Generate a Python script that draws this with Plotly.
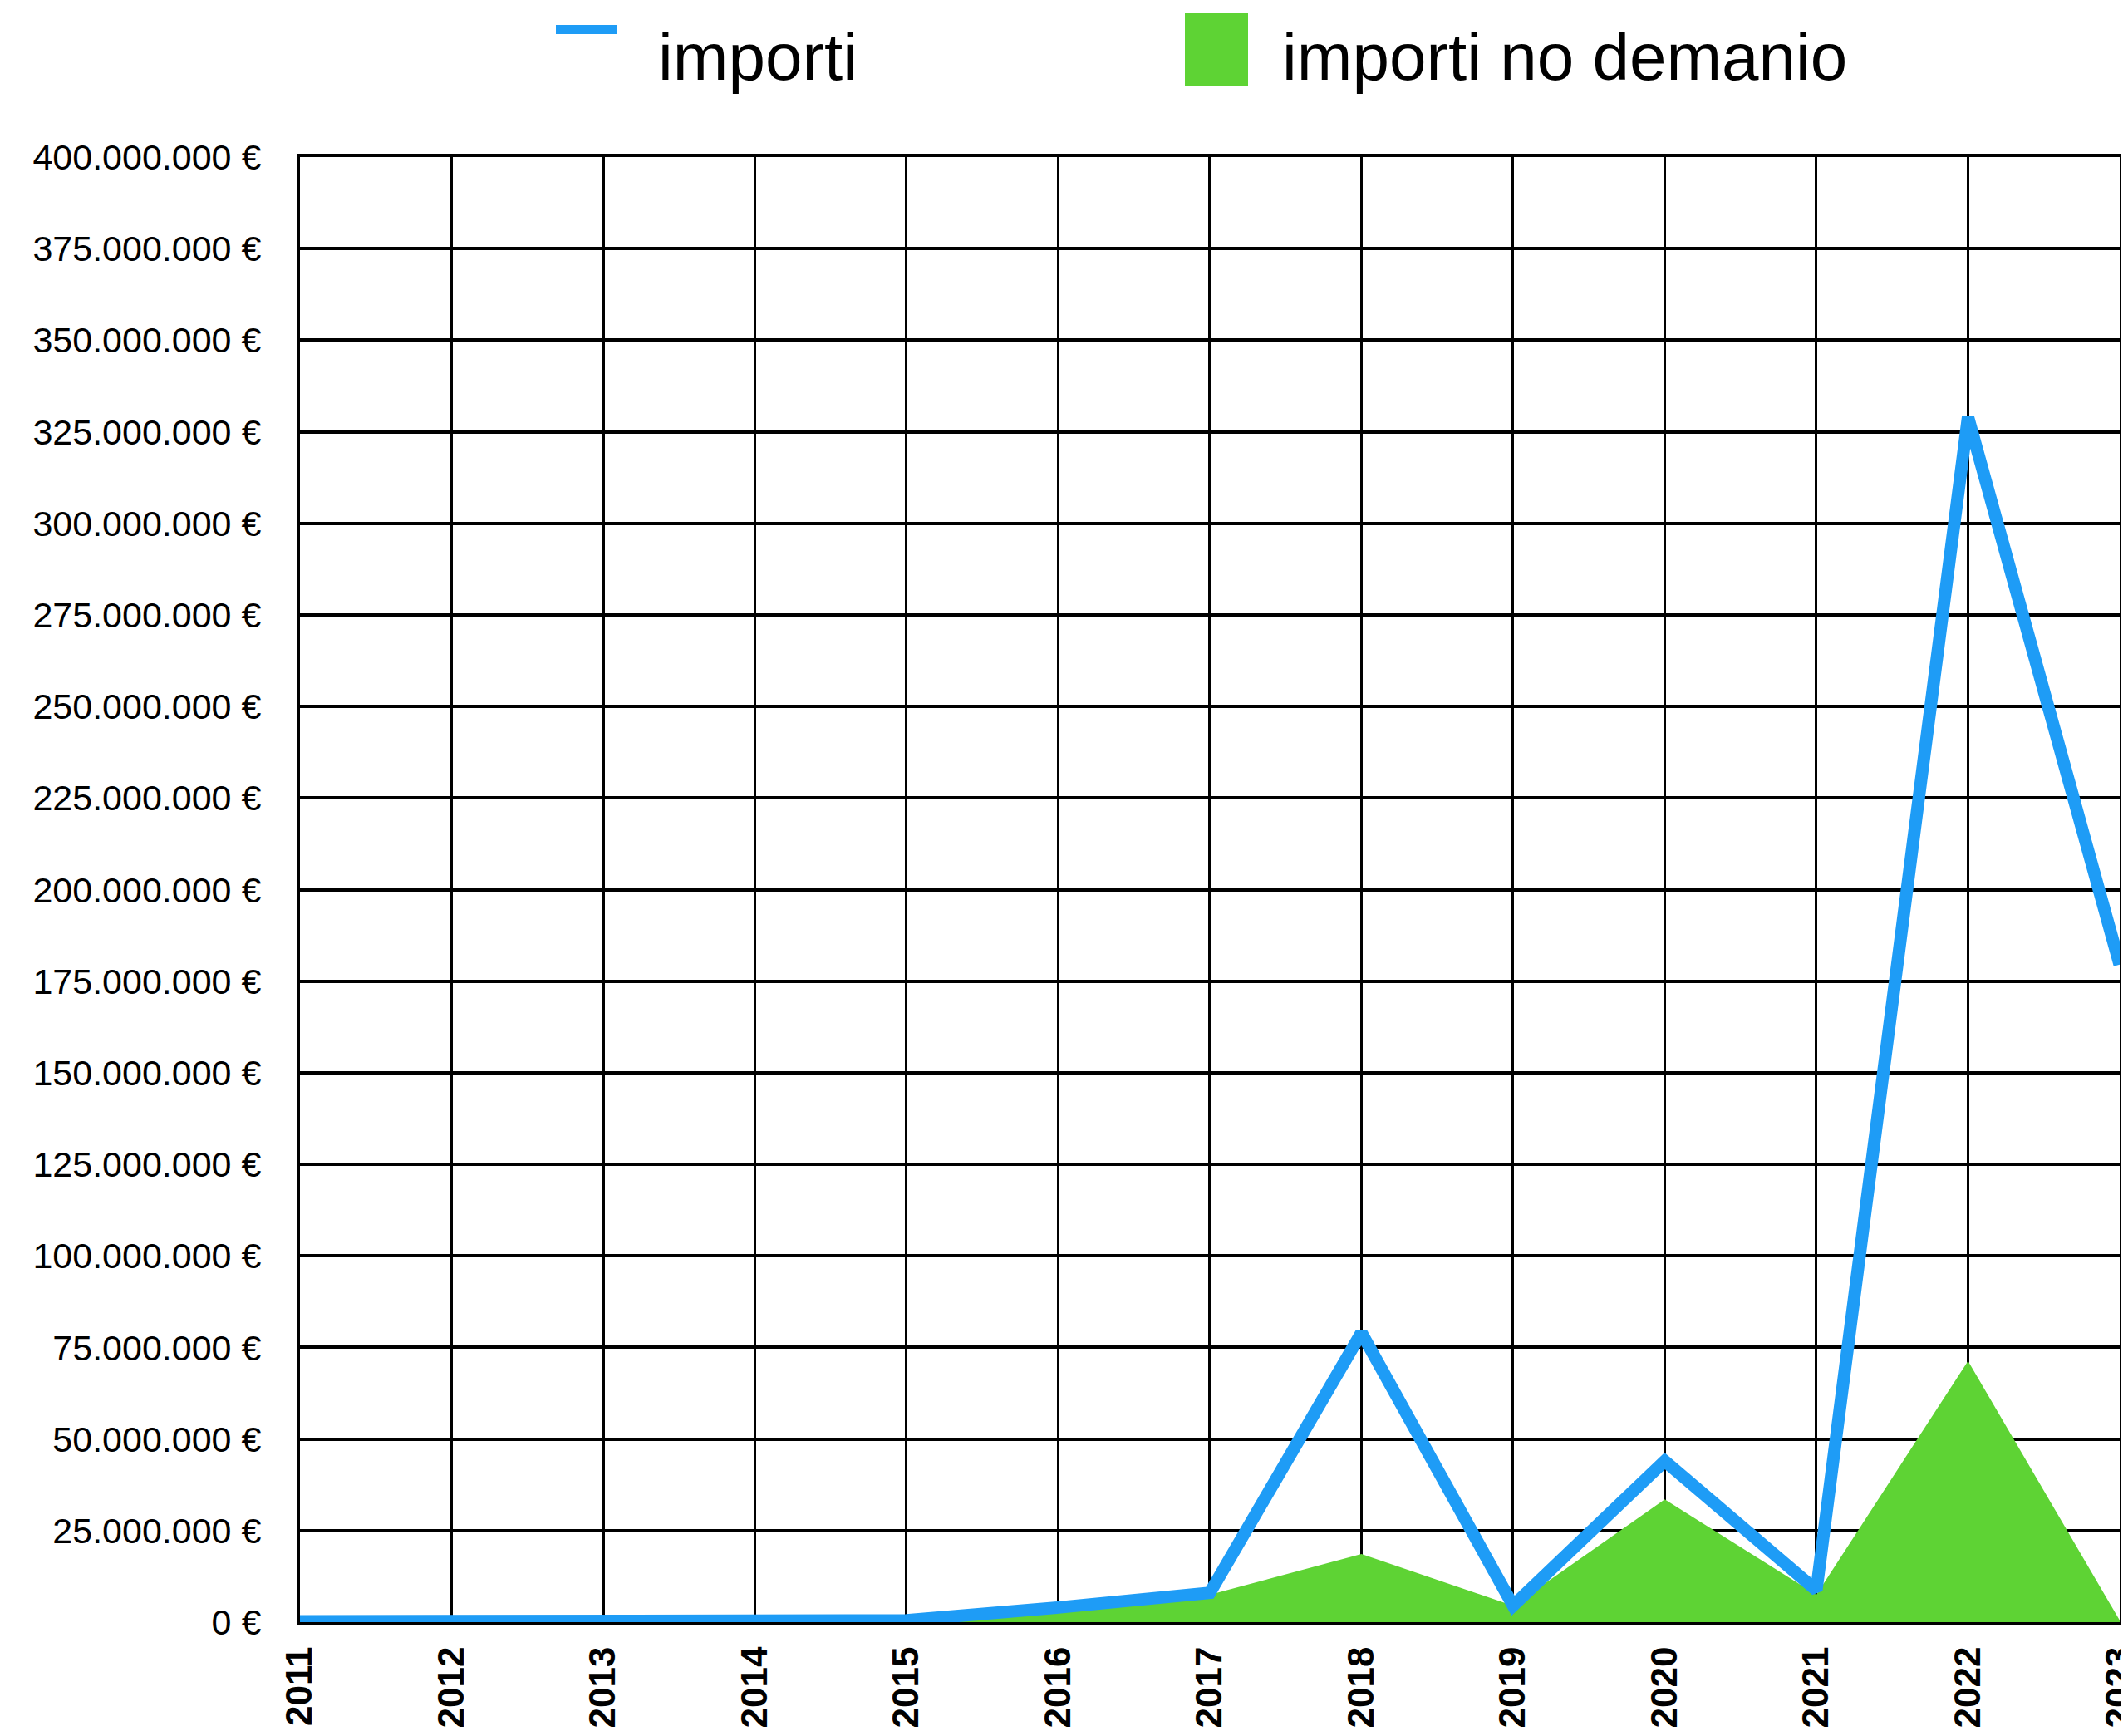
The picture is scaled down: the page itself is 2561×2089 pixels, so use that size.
import plotly.graph_objects as go

years = list(range(2011, 2024))
importi = [0.2e6, 0.4e6, 0.1e6, 0.1e6, 0.5e6, 4.0e6, 8.0e6, 79.0e6, 4.5e6, 44.0e6, 8.7e6, 329.0e6, 179.5e6]
importi_no_demanio = [0, 0, 0, 0, 0, 2.5e6, 7.5e6, 18.6e6, 4.5e6, 33.5e6, 7.5e6, 71.3e6, 0.5e6]

BLUE = "#1E9CF6"
GREEN = "#5ED334"
FONT = "Liberation Sans, Arial, Helvetica, sans-serif"

W, H = 2561, 2089
L, R, T, B = 353, 18, 181, 145  # margini in px
pw, ph = W - L - R, H - T - B


def px_x(x):
    return (x - L) / pw


def px_y(y):
    return (H - B - y) / ph


fig = go.Figure()

# area verde sotto la linea
fig.add_trace(go.Scatter(
    x=years, y=importi_no_demanio, name="importi no demanio",
    mode="lines", fill="tozeroy", fillcolor=GREEN,
    line=dict(width=0, color=GREEN), showlegend=False,
))
fig.add_trace(go.Scatter(
    x=years, y=importi, name="importi",
    mode="lines", line=dict(color=BLUE, width=15), showlegend=False,
))

# ── legenda disegnata a mano ─────────────────────────────────────────────
fig.add_shape(type="rect", xref="paper", yref="paper",
              x0=px_x(661), x1=px_x(735), y0=px_y(33), y1=px_y(22),
              fillcolor=BLUE, line_width=0)
fig.add_shape(type="rect", xref="paper", yref="paper",
              x0=px_x(1418), x1=px_x(1494), y0=px_y(95), y1=px_y(8),
              fillcolor=GREEN, line_width=0)
for txt, x0 in [("importi", 782), ("importi no demanio", 1533)]:
    fig.add_annotation(text=txt, xref="paper", yref="paper",
                       x=px_x(x0), y=px_y(60), xanchor="left", yanchor="middle",
                       showarrow=False, font=dict(size=80, color="black", family=FONT))

fig.update_layout(
    width=W, height=H,
    margin=dict(l=L, r=R, t=T, b=B, autoexpand=False),
    plot_bgcolor="white", paper_bgcolor="white",
    separators=",.",
    font=dict(family=FONT, color="black"),
    showlegend=False,
)
fig.update_yaxes(
    range=[0, 400e6], dtick=25e6, tick0=0,
    tickformat=",.0f", ticksuffix=" €",
    tickfont=dict(size=43, family=FONT, color="black"),
    ticklabelstandoff=34, automargin=False,
    showgrid=True, gridcolor="black", gridwidth=4,
    zeroline=False, showline=True, linecolor="black", linewidth=4, mirror=True,
)
fig.update_xaxes(
    range=[2011, 2023.0001], tickvals=years, ticktext=[str(y) for y in years],
    tickangle=-90, ticklabeloverflow="allow", automargin=False,
    tickfont=dict(size=44, family=FONT, color="black", weight="bold"),
    ticklabelstandoff=8,
    showgrid=True, gridcolor="black", gridwidth=3,
    zeroline=False, showline=True, linecolor="black", linewidth=4, mirror=True,
)

fig.write_html("out.html")
